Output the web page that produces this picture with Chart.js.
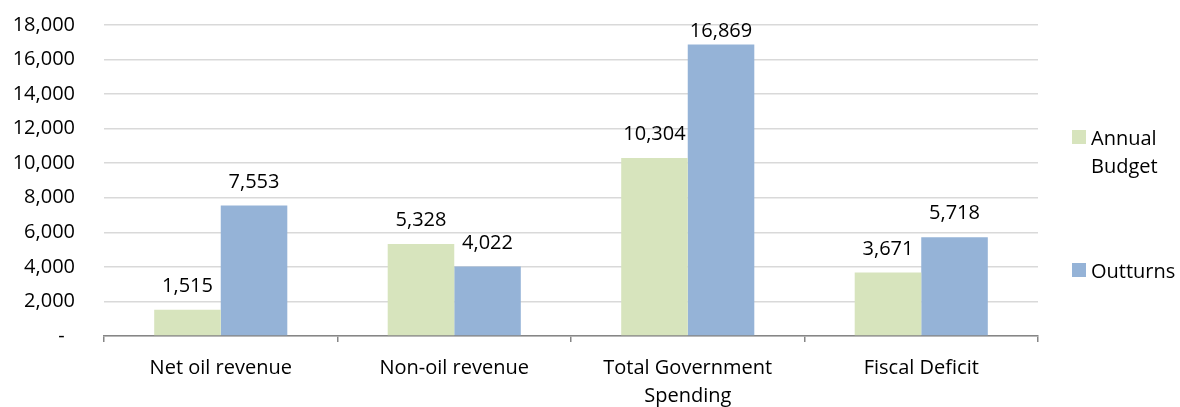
<!DOCTYPE html>
<html>
<head>
<meta charset="utf-8">
<script src="https://cdn.jsdelivr.net/npm/chart.js@4/dist/chart.umd.min.js"></script>
<style>
  html, body { margin: 0; padding: 0; background: #fff; }
  #wrap { width: 1180px; height: 407px; position: relative; }
</style>
</head>
<body>
<div id="wrap"><canvas id="chart"></canvas></div>
<script>
// chart data
var categories = ["Net oil revenue", "Non-oil revenue", ["Total Government", "Spending"], "Fiscal Deficit"];
var annualBudget = [1515, 5328, 10304, 3671];
var outturns = [7553, 4022, 16869, 5718];
var seriesNames = [["Annual", "Budget"], ["Outturns"]];
var yTicks = { min: 0, max: 18000, step: 2000 };

var FONT = "'Open Sans', 'Liberation Sans', sans-serif";
var colors = ["#d7e4bd", "#95b3d7"];

function fmt(v) {
  return v.toLocaleString("en-US");
}

// value labels above each bar
var barLabels = {
  id: "barLabels",
  afterDatasetsDraw: function(chart) {
    var ctx = chart.ctx;
    ctx.save();
    ctx.font = "20px " + FONT;
    ctx.fillStyle = "#000";
    ctx.textAlign = "center";
    ctx.textBaseline = "alphabetic";
    chart.data.datasets.forEach(function(ds, i) {
      var meta = chart.getDatasetMeta(i);
      meta.data.forEach(function(bar, j) {
        var y = Math.max(bar.y - 18, chart.chartArea.top + 12);
        ctx.fillText(fmt(ds.data[j]), bar.x, y);
      });
    });
    ctx.restore();
  }
};

// legend on the right, Annual Budget wraps onto two lines
var sideLegend = {
  id: "sideLegend",
  afterDraw: function(chart) {
    var ctx = chart.ctx;
    var tops = [130, 263];
    ctx.save();
    ctx.font = "20px " + FONT;
    ctx.textBaseline = "alphabetic";
    ctx.textAlign = "left";
    chart.data.datasets.forEach(function(ds, i) {
      var y = tops[i];
      ctx.fillStyle = ds.backgroundColor;
      ctx.fillRect(1072, y, 14, 14);
      ctx.fillStyle = "#000";
      seriesNames[i].forEach(function(line, k) {
        ctx.fillText(line, 1091, y + 15 + k * 28);
      });
    });
    ctx.restore();
  }
};

new Chart(document.getElementById("chart"), {
  type: "bar",
  data: {
    labels: categories,
    datasets: [
      { label: "Annual Budget", data: annualBudget, backgroundColor: colors[0] },
      { label: "Outturns", data: outturns, backgroundColor: colors[1] }
    ]
  },
  options: {
    responsive: true,
    maintainAspectRatio: false,
    animation: false,
    layout: { padding: { top: 25, right: 142, left: 0, bottom: 0 } },
    datasets: { bar: { categoryPercentage: 0.57, barPercentage: 1.0 } },
    plugins: {
      legend: { display: false },
      tooltip: { enabled: false }
    },
    scales: {
      x: {
        grid: {
          offset: true,
          drawOnChartArea: false,
          drawTicks: true,
          tickLength: 6,
          color: "#868686",
          lineWidth: 1.5
        },
        border: { color: "#868686", width: 1.5 },
        ticks: {
          color: "#000",
          font: { family: FONT, size: 20, lineHeight: 1.4 },
          padding: 12,
          maxRotation: 0,
          autoSkip: false
        },
        afterFit: function(scale) { scale.height = 71; }
      },
      y: {
        min: yTicks.min,
        max: yTicks.max,
        grid: { color: "#d9d9d9", lineWidth: 1.5, drawTicks: false },
        border: { display: false },
        ticks: {
          stepSize: yTicks.step,
          color: "#000",
          padding: 29,
          font: { family: FONT, size: 20 },
          callback: function(v) { return v === 0 ? "-  " : fmt(v); }
        },
        afterFit: function(scale) {
          scale.width = 104;
          scale.paddingTop = 12;
          scale.paddingBottom = 12;
        }
      }
    }
  },
  plugins: [barLabels, sideLegend]
});
</script>
</body>
</html>
